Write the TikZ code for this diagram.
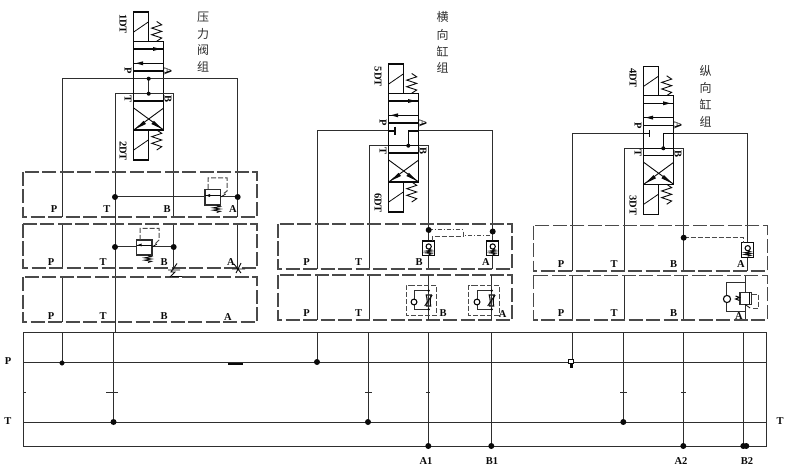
\documentclass[tikz,border=0pt]{standalone}
\usepackage{fontspec}
\setmainfont{Liberation Serif}
\newfontfamily\cjkfont{Noto Sans CJK SC}
\definecolor{ln}{HTML}{2E2E2E}
\definecolor{dk}{HTML}{0A0A0A}
\definecolor{dsh}{HTML}{4A4A4A}
\tikzset{
  pipe/.style={draw=ln,line width=1pt},
  vbody/.style={draw=dk,line width=1.1pt},
  blockbox/.style={draw=dsh,line width=1.1pt,dash pattern=on 14pt off 3.5pt},
  pilot/.style={draw=dsh,line width=1pt,dash pattern=on 5pt off 2pt},
  jdot/.style={circle,fill=dk,inner sep=0pt,minimum size=6pt},
  lab/.style={font=\bfseries\fontsize{10.5}{11}\selectfont,text=dk,inner sep=0pt},
  rlab/.style={lab,rotate=-90},
  han/.style={font=\cjkfont\fontsize{12}{13}\selectfont,text=dk!85,inner sep=0pt},
}
% spring drawn vertically from y=#2 over length #3, centred on x=#1, half-width #4
\newcommand{\vspr}[4]{\draw[vbody,line width=0.9pt] (#1,#2)
  -- ++(#4,{(#3)/6}) -- ++(-2*#4,{(#3)/6}) -- ++(2*#4,{(#3)/6}) -- ++(-2*#4,{(#3)/6}) -- ++(2*#4,{(#3)/6}) -- ++(-#4,{(#3)/6});}
% directional valve, drawn at the position of the first group
\newcommand{\dirvalve}[6]{%
 \begin{scope}[shift={(#1,#2)}]
  \draw[vbody] (133.7,12) rectangle (148.3,41.3);
  \draw[vbody,line width=0.8pt] (133.7,32) -- (148.3,22);
  \vspr{156.7}{21.5}{19.8}{5}
  \draw[vbody,fill=white] (133.7,41.3) rectangle (163.7,130);
  \draw[vbody] (133.7,130) rectangle (148.3,160);
  \draw[vbody,line width=0.8pt] (133.7,150) -- (148.3,140);
  \vspr{156.7}{130}{20}{5}
  \foreach \yy in {49,63.3,71,101} \draw[vbody] (133.7,\yy) -- (163.7,\yy);
  \fill[dk] (160.5,49) -- (153,47) -- (153,51) -- cycle;
  \fill[dk] (135.7,63.3) -- (143,61.3) -- (143,65.3) -- cycle;
  \draw[vbody,line width=0.9pt] (133.7,130) -- (163.7,108) (133.7,108) -- (163.7,130);
  \fill[dk] (135,129.2) -- (143.5,120.8) -- (146,124) -- cycle;
  \fill[dk] (162.4,129.2) -- (151.4,124) -- (153.9,120.8) -- cycle;
  \node[rlab] (pl#6) at (128,71) {P};
  \node[rlab] (al#6) at (168,71) {A};
  \node[rlab] (tl#6) at (128,99) {T};
  \node[rlab] (bl#6) at (168,99.5) {B};
  \node[rlab] (ul#6) at (123,#3) {#4};
  \node[rlab] (dl#6) at (123,151) {#5};
 \end{scope}}
% check valve block
\newcommand{\chk}[4]{% centre x, top y, width, height
  \draw[vbody,fill=white] (#1-#3/2,#2) rectangle (#1+#3/2,#2+#4);
  \draw[vbody] (#1,#2+5.5) circle (2.6);
  \vspr{#1}{#2+8.2}{#4-9.2}{3}}
% relief valve block
\newcommand{\relief}[7]{%
  \draw[vbody,line width=1.4pt,fill=white,draw=ln] (#1,#2) rectangle (#3,#4);
  \draw[vbody,line width=0.8pt] (#1,#5) -- (#3,#5);
  \fill[dk] (#1+1,#5) -- ++(4,-1.5) -- ++(0,3) -- cycle;
  \vspr{#6}{#4+0.5}{7}{3.5}
  \draw[vbody,line width=0.8pt] (#3,#7) -- (#3+5,#7-3);}
% throttle with check
\newcommand{\thr}[4]{% left x, main x, top y, bottom y
  \draw[pipe] (#1,#3) -- (#2,#3) (#1,#4) -- (#2,#4) (#1,#3) -- (#1,#4);
  \draw[vbody,fill=white] (#1,{(#3+#4)/2+2}) circle (2.9);
  \draw[vbody,fill=white] (#2-2.5,{(#3+#4)/2-5}) to[out=-75,in=80] (#2-2,{(#3+#4)/2+6}) -- (#2+2,{(#3+#4)/2+6}) to[out=100,in=-105] (#2+2.5,{(#3+#4)/2-5}) -- cycle;
  \draw[pipe] (#2,#3) -- (#2,#4);
  \draw[vbody,line width=1pt] (#2-4,{(#3+#4)/2+6}) -- (#2+3.5,{(#3+#4)/2-5});
  \fill[dk] (#2,#3) circle (1.3) (#2,#4) circle (1.3);}
\begin{document}
\begin{tikzpicture}[x=1pt,y=-1pt]
\useasboundingbox (0,0) rectangle (797,470);
\fill[white] (0,0) rectangle (797,470);

% ----- group 1 -----
\draw[pipe] (62,217) -- (62,78.7) -- (133.7,78.7) (163.7,78.7) -- (237.7,78.7) -- (237.7,217);
\draw[pipe] (115,332) -- (115,93.7) -- (133.7,93.7) (163.7,93.7) -- (173.7,93.7) -- (173.7,217);
\draw[pipe] (62,224) -- (62,268) (62,277) -- (62,322);
\draw[pipe] (173.7,224) -- (173.7,268) (237.7,224) -- (237.7,268);
\dirvalve{0}{0}{24}{1DT}{2DT}{a}
\draw[pipe] (133.7,78.7) -- (163.7,78.7);
\draw[pipe] (148.7,78.7) -- (148.7,93.7);
\draw[pipe] (133.7,93.7) -- (163.7,93.7);
\node[jdot,minimum size=4pt] (va1) at (148.7,78.7) {};
\node[jdot,minimum size=4pt] (va2) at (148.7,93.7) {};

\draw[blockbox] (23,172) rectangle (257,217);
\draw[blockbox] (23,224) rectangle (257,268);
\draw[blockbox] (23,277) rectangle (257,322);

\draw[pipe] (115,197) -- (205,197) (220.7,197) -- (237.7,197);
\relief{205}{189.5}{220.7}{205}{195.5}{216.7}{197}
\draw[pilot] (208,189) -- (208,178) -- (227,178) -- (227,191) -- (223,194);
\node[jdot] (d1) at (115,197) {};
\node[jdot] (d2) at (237.7,197) {};

\draw[pipe] (115,247) -- (136.7,247) (152,247) -- (173.7,247);
\relief{136.7}{240}{152}{255}{245}{148}{247}
\draw[pilot] (140,240) -- (140,228.5) -- (159,228.5) -- (159,240) -- (155,244);
\node[jdot] (d3) at (115,247) {};
\node[jdot] (d4) at (173.7,247) {};

\draw[dk,line width=0.9pt] (177,263.5) -- (171,272) -- (175,272) -- (170,277) (168,270) -- (180,270)
  (172,276.5) -- (182,276.5);
\draw[dk,line width=0.9pt] (241,263) -- (236,273) (232,269) -- (245,269) (234,264) -- (241,273);

\foreach \nm/\tx/\xx/\yy in {a/P/54/209,b/T/107/209,c/B/167/209,d/A/233/209,
  e/P/51/262,f/T/103/262,g/B/164/262,h/A/231/262,
  i/P/51/316,j/T/103/316,k/B/164/316,l/A/228/317}
  \node[lab] (r\nm) at (\xx,\yy) {\tx};
\node[han] (h1) at (203,17) {压};
\node[han] (h2) at (203,33.5) {力};
\node[han] (h3) at (203,50) {阀};
\node[han] (h4) at (203,67) {组};

% ----- group 2 -----
\draw[pipe] (317.3,269) -- (317.3,131) -- (395,131);
\draw[pipe] (369.3,269) -- (369.3,145.7) -- (388.7,145.7);
\draw[pipe] (428.7,269) -- (428.7,145.7) -- (418.3,145.7);
\draw[pipe] (492.7,269) -- (492.7,131) -- (418.3,131);
\draw[pipe] (317.3,275) -- (317.3,320) (369.3,275) -- (369.3,320);
\dirvalve{255}{52}{24.7}{5DT}{6DT}{b}
\draw[vbody] (388.7,131) -- (395,131) (395,126.7) -- (395,135);
\draw[vbody] (418.3,131) -- (408.3,131) -- (408.3,145.7);
\draw[vbody] (388.7,145.7) -- (418.3,145.7);
\node[jdot,minimum size=4pt] (vb1) at (408.3,145.7) {};

\draw[blockbox] (278,224) rectangle (512,269);
\draw[blockbox] (278,275) rectangle (512,320);

\chk{428.7}{241}{12.3}{14.7}
\chk{492.7}{241}{12.3}{14.7}
\draw[pilot,dash pattern=on 4pt off 2pt on 1pt off 2pt] (428.7,230) -- (463,230) -- (463,235.5) -- (492.7,235.5);
\draw[pilot] (432,241) -- (432,236.7) -- (463,236.7);
\node[jdot] (d5) at (428.7,230) {};
\node[jdot] (d6) at (492.7,231.5) {};

\draw[pipe] (428.7,275) -- (428.7,320) (491.7,275) -- (491.7,320);
\draw[pilot] (413,285) -- (406,285) -- (406,315) -- (436.7,315) -- (436.7,285) -- (413,285);
\draw[pilot] (476,285) -- (468.7,285) -- (468.7,315) -- (499,315) -- (499,285) -- (476,285);
\thr{414}{428.7}{290.7}{309.3}
\thr{477}{491.7}{290.7}{309.3}

\foreach \nm/\tx/\xx/\yy in {a/P/306.7/262.3,b/T/358.7/262.3,c/B/419/262.3,d/A/486/262.3,
  e/P/306.7/313,f/T/358.7/313,g/B/443/313,h/A/502.7/314}
  \node[lab] (s\nm) at (\xx,\yy) {\tx};
\node[han] (h5) at (442.5,17) {横};
\node[han] (h6) at (442.5,35) {向};
\node[han] (h7) at (442.5,51.5) {缸};
\node[han] (h8) at (442.5,67.5) {组};

% ----- group 3 -----
\draw[pipe] (572.3,271) -- (572.3,133.3) -- (649.3,133.3);
\draw[pipe] (624.7,271) -- (624.7,148.3) -- (643.7,148.3);
\draw[pipe] (683.7,271) -- (683.7,148.3) -- (673.3,148.3);
\draw[pipe] (747.7,242.7) -- (747.7,133.3) -- (673.3,133.3);
\draw[pipe] (747.7,257) -- (747.7,271);
\draw[pipe] (572.3,275.3) -- (572.3,320) (624.7,275.3) -- (624.7,320) (683.7,275.3) -- (683.7,320);
\draw[pipe] (745.3,275.3) -- (745.3,320);
\dirvalve{510}{54.3}{23.7}{4DT}{3DT}{c}
\draw[vbody] (643.7,133.3) -- (649.3,133.3) (649.3,130) -- (649.3,136.7);
\draw[vbody] (673.3,133.3) -- (663.3,133.3) -- (663.3,148.3);
\draw[vbody] (643.7,148.3) -- (673.3,148.3);
\node[jdot,minimum size=4pt] (vc1) at (663.3,148.3) {};

\draw[blockbox] (533.3,225.7) rectangle (767.3,271);
\draw[blockbox] (533.3,275.3) rectangle (767.3,320);

\chk{747.7}{242.7}{12.3}{14.6}
\draw[pilot] (683.7,237.7) -- (743,237.7) -- (743,242.7);
\node[jdot] (d7) at (683.7,237.7) {};

\draw[pipe] (745.3,282.7) -- (726.7,282.7) -- (726.7,311) -- (745.3,311);
\draw[vbody,fill=white] (727,299) circle (3.6);
\draw[vbody,line width=1.4pt,fill=white,draw=ln] (740,292.3) rectangle (751.7,304.3);
\draw[vbody,line width=0.8pt] (749.5,292.3) -- (749.5,304.3);
\draw[vbody,line width=1pt] (735.5,296) -- (739.5,297.5) -- (735.5,299) -- (739.5,300.5);
\draw[pilot] (752,294) -- (758.5,294) -- (758.5,308) -- (752,308);
\draw[vbody,line width=0.8pt] (745.3,304.5) -- (750,308);

\foreach \nm/\tx/\xx/\yy in {a/P/561/264.3,b/T/614/264.3,c/B/673.7/264.3,d/A/741/264.3,
  e/P/561/313.3,f/T/614/313.3,g/B/673.7/313.3,h/A/739/316}
  \node[lab] (t\nm) at (\xx,\yy) {\tx};
\node[han] (h9) at (705.7,71) {纵};
\node[han] (h10) at (705.7,88) {向};
\node[han] (h11) at (705.7,104.5) {缸};
\node[han] (h12) at (705.7,121.5) {组};

% ----- manifold -----
\draw[pipe] (23,332) rectangle (766,446);
\draw[pipe] (23,362) -- (766,362);
\draw[pipe] (23,422) -- (766,422);
\draw[pipe] (62,332) -- (62,362);
\draw[pipe] (113.5,332) -- (113.5,422);
\draw[pipe] (317,332) -- (317,362);
\draw[pipe] (368,332) -- (368,422);
\draw[pipe] (428.3,332) -- (428.3,446);
\draw[pipe] (491.3,332) -- (491.3,446);
\draw[pipe] (572.3,332) -- (572.3,362);
\draw[pipe] (623.3,332) -- (623.3,422);
\draw[pipe] (683.3,332) -- (683.3,446);
\draw[pipe] (743.3,332) -- (743.3,446);
\draw[dk,line width=1.2pt] (228,364) -- (243,364);
\foreach \xa/\xb in {23/26,106/118,365/372,426/430,620/627,681/686}
  \draw[pipe] (\xa,392) -- (\xb,392);
\node[circle,draw=dk,fill=dk,inner sep=0pt,minimum size=4.5pt] (m0) at (62,363) {};
\node[jdot] (m1) at (317,362) {};
\node[jdot] (m2) at (113.5,422) {};
\node[jdot] (m3) at (368,422) {};
\node[jdot] (m4) at (623.3,422) {};
\node[jdot] (m5) at (428.3,446) {};
\node[jdot] (m6) at (491.3,446) {};
\node[jdot] (m7) at (683.3,446) {};
\node[jdot] (m8) at (743.3,446) {};
\node[jdot] (m9) at (746.3,446) {};
\fill[dk] (570,361) rectangle (572.5,367.5);
\draw[dk,line width=0.6pt,fill=white] (568.3,359.3) rectangle (572.8,362.8);
\node[lab] (mp) at (8,361) {P};
\node[lab] (mt) at (8,421) {T};
\node[lab] (mr) at (780,421) {T};
\node[lab] (a1) at (426,461) {A1};
\node[lab] (b1) at (492,461) {B1};
\node[lab] (a2) at (681,461) {A2};
\node[lab] (b2) at (747,461) {B2};
\end{tikzpicture}
\end{document}
